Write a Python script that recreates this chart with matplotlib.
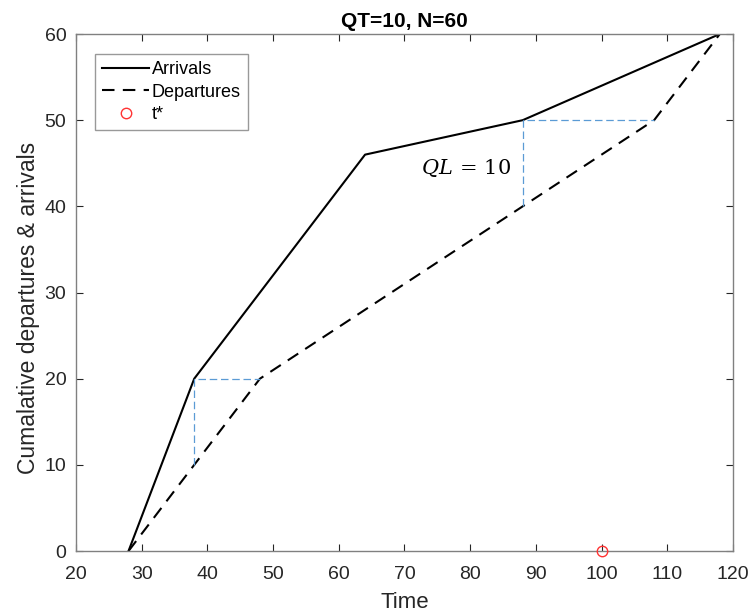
import matplotlib.pyplot as plt

# Data
arr_t = [28, 38, 64, 88, 118]
arr_n = [0, 20, 46, 50, 60]

dep_t = [28, 38, 48, 88, 108, 118]
dep_n = [0, 10, 20, 40, 50, 60]

# queue-length helper lines (vertical then horizontal)
q1_t = [38, 38, 48]
q1_n = [10, 20, 20]
q2_t = [88, 88, 108]
q2_n = [40, 50, 50]

t_star = [100]
t_star_n = [0]

plt.rcParams['font.family'] = ['Liberation Sans', 'DejaVu Sans']
plt.rcParams['mathtext.fontset'] = 'dejavuserif'

fig = plt.figure(figsize=(7.53, 6.16), dpi=100)
ax = fig.add_axes([0.1009, 0.1055, 0.8725, 0.8393])

ax.plot(arr_t, arr_n, color='black', lw=1.5, label='Arrivals')
ax.plot(dep_t, dep_n, color='black', lw=1.5, ls=(0, (6, 4)), label='Departures')
ax.plot(t_star, t_star_n, 'o', mfc='none', mec='#ff3333', ms=7.5, mew=1.0,
        label='t*', clip_on=False, zorder=5)
ax.plot(q1_t, q1_n, color='#5b9bd5', lw=0.9, ls=(0, (6, 3)))
ax.plot(q2_t, q2_n, color='#5b9bd5', lw=0.9, ls=(0, (6, 3)))

ax.text(86.3, 44.4, r'$QL\,=\,10$', fontsize=15, ha='right', va='center',
        color='black')

ax.set_xlim(20, 120)
ax.set_ylim(0, 60)
ax.set_xticks(range(20, 121, 10))
ax.set_yticks(range(0, 61, 10))
ax.tick_params(direction='in', top=True, right=True, length=5, width=0.8,
               labelsize=14, colors='#262626')
ax.tick_params(axis='x', pad=11)
ax.tick_params(axis='y', pad=7)
for s in ax.spines.values():
    s.set_color('#808080')
    s.set_linewidth(1.0)

ax.set_xlabel('Time', fontsize=16, color='#262626', labelpad=6)
ax.set_ylabel('Cumalative departures & arrivals', fontsize=16.5, color='#262626')
ax.yaxis.set_label_coords(-0.055, 0.47)
ax.set_title('QT=10, N=60', fontsize=15, fontweight='bold', color='#000000',
             pad=5)

leg = ax.legend(loc='upper left', bbox_to_anchor=(0.029, 0.961), fontsize=13,
                frameon=True, fancybox=False, edgecolor='#808080',
                handlelength=2.6, handletextpad=0.15, borderpad=0.4,
                labelspacing=0.3, borderaxespad=0)
leg.get_frame().set_linewidth(1.0)

fig.savefig('out.png', dpi=100)
